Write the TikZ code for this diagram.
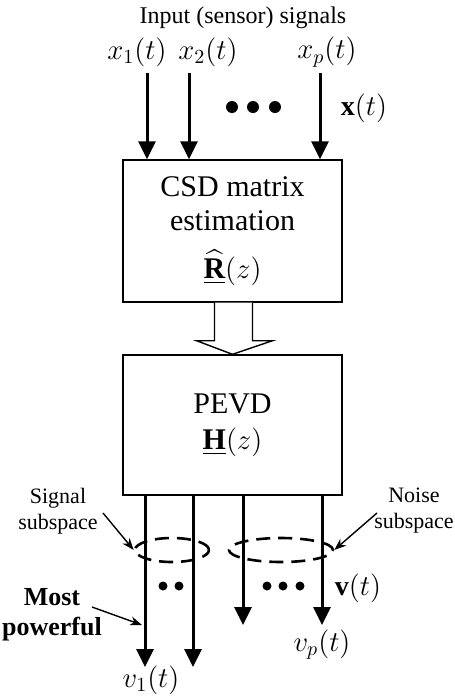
\documentclass[tikz,border=0pt]{standalone}
\usepackage{amsmath,amssymb}
\usepackage{fontspec}
\setmainfont{Liberation Serif}
\usepackage{tikz}
\usetikzlibrary{arrows.meta,positioning,calc,shapes.geometric}
\tikzset{
  blockbox/.style={rectangle, draw, line width=0.7pt, align=center,
                   minimum width=109.5pt, font=\fontsize{15}{19}\selectfont},
  sig/.style={line width=1.5pt, -{Triangle[length=9pt, width=8.5pt]}},
  hollow/.style={draw, line width=0.7pt, fill=white, line join=miter},
  subsp/.style={ellipse, draw, line width=1.3pt, dash pattern=on 7pt off 4pt, inner sep=0pt},
  pointer/.style={line width=0.7pt, -{Stealth[length=6pt, width=4.5pt]}},
  sublabel/.style={align=center, font=\fontsize{11}{13}\selectfont},
  mathlabel/.style={font=\fontsize{14}{16}\selectfont, inner sep=1pt},
  dot/.style={circle, fill, inner sep=0pt},
}
\begin{document}
\begin{tikzpicture}[x=0.5pt, y=-0.5pt]
  \useasboundingbox (0,0) rectangle (455,698);
  % estimation and decomposition blocks
  \node[blockbox, minimum height=71pt] (csd) at (232.5,231)
    {CSD matrix\\[-2pt] estimation\\[5pt] $\underline{\widehat{\mathbf{R}}}(z)$};
  \node[blockbox, minimum height=70pt] (pevd) at (232.5,425)
    {PEVD\\[-1pt] $\underline{\mathbf{H}}(z)$};
  % inputs
  \node[sublabel, font=\fontsize{12}{14}\selectfont] (title) at (243,18) {Input (sensor) signals};
  \coordinate (in1) at (147,73);
  \coordinate (in2) at (189,73);
  \coordinate (inp) at (320,73);
  \node[mathlabel] (x1) at (137,52) {$x_1(t)$};
  \node[mathlabel] (x2) at (208,52) {$x_2(t)$};
  \node[mathlabel] (xp) at (327,52) {$x_p(t)$};
  \foreach \c in {in1,in2,inp}
    \draw[sig] (\c) -- (\c |- csd.north);
  \foreach \x in {232,253,275}
    \node[dot, minimum size=6pt] at (\x,107) {};
  \node[mathlabel] (xt) at (364,108) {$\mathbf{x}(t)$};
  % hollow arrow between the blocks
  \draw[hollow] ($(csd.south)+(-18,0)$) -- ($(csd.south)+(-18,38)$)
    -- ($(csd.south)+(-36,38)$) -- (pevd.north) -- ($(csd.south)+(40,38)$)
    -- ($(csd.south)+(20,38)$) -- ($(csd.south)+(20,0)$);
  % outputs
  \coordinate (out1) at (145,667);
  \coordinate (out2) at (193,667);
  \coordinate (out3) at (243,625);
  \coordinate (outp) at (322,625);
  \node[subsp, minimum width=37pt, minimum height=12pt] (sigsub) at (172,550) {};
  \node[subsp, minimum width=52pt, minimum height=12pt] (noisub) at (281,550) {};
  \foreach \c in {out1,out2,out3,outp}
    \draw[sig] (\c |- pevd.south) -- (\c);
  \foreach \x in {163,179,267,283,300}
    \node[dot, minimum size=4.5pt] at (\x,586) {};
  \node[mathlabel] (vt) at (358,588) {$\mathbf{v}(t)$};
  \node[mathlabel, inner sep=0pt] (v1) at (151,680) {$v_1(t)$};
  \node[mathlabel, below=1pt of outp] (vp) {$v_p(t)$};
  % annotations
  \node[sublabel] (siglab) at (58,511) {Signal\\subspace};
  \node[sublabel] (noilab) at (414,511) {Noise\\subspace};
  \node[sublabel, font=\fontsize{13}{15}\selectfont\bfseries] (most) at (52,615) {Most\\powerful};
  \draw[pointer] (103,513) -- (sigsub.west);
  \draw[pointer] (377,513) -- (noisub.east);
  \draw[pointer] (92,607) -- ($(out1 |- 0,625)+(-3,0)$);
\end{tikzpicture}
\end{document}
